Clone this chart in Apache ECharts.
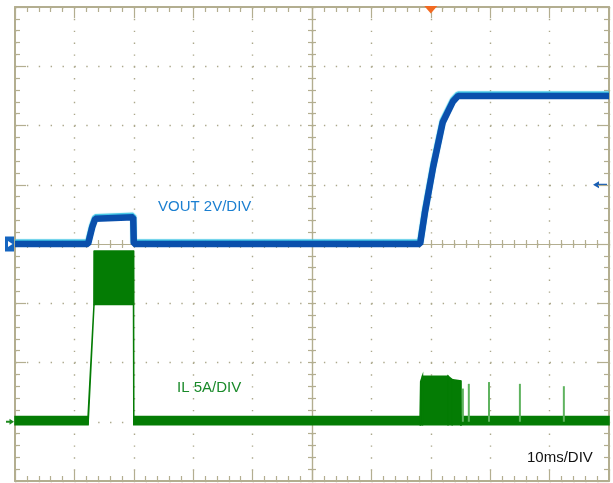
<!DOCTYPE html>
<html><head><meta charset="utf-8">
<script src="https://cdn.jsdelivr.net/npm/echarts@6.0.0/dist/echarts.min.js"></script>
<style>html,body{margin:0;padding:0;background:#fff}#c{width:613px;height:483px}</style>
</head><body><div id="c"></div>
<script>
// ---- data read from the scope capture (time in ms) ----
const timeV = [0, 12.3, 13.0, 13.5, 13.8, 19.9, 20.0, 68.2, 69.0, 70.4, 72.0, 73.7, 74.6, 100];
const vout  = [0, 0,    0.57, 0.85, 0.9,  0.9,  0,    0,    1.05, 2.6,  4.1,  4.8,  5.0,  5.0];

const timeIL = [0,     12.3,  13.3, 13.35, 19.95, 20.0,  68.2,  68.3,  68.6,  72.9,  73.6,  75.05, 75.1,  100];
const ilLow  = [-0.25, -0.25, 9.9,  9.9,   9.9,   -0.25, -0.25, -0.25, -0.25, -0.25, -0.25, -0.25, -0.25, -0.25];
const ilHigh = [0.45,  0.45,  9.9,  14.4,  14.4,  0.45,  0.45,  3.4,   3.85,  3.85,  3.55,  3.45,  0.45,  0.45];

const spikeTime = [75.4, 76.4, 79.8, 85.0, 92.4];
const spikeIL   = [2.8,  3.2,  3.35, 3.2,  3.0];

const voutLabel = 'VOUT 2V/DIV';
const ilLabel = 'IL 5A/DIV';
const timeLabel = '10ms/DIV';
const triggerTime = 70;
const triggerLevel = 2.0;

// ---- chart ----
const gridC = '#b3ae90';
const dotC = '#aca88c';
function border(pos, extra) {
  return Object.assign({
    type: 'value', position: pos,
    axisLine: {show: true, onZero: false, lineStyle: {color: gridC, width: 2}},
    axisTick: {show: true, inside: true, length: 11, lineStyle: {color: gridC, width: 1.2}},
    minorTick: {show: true, splitNumber: 5, length: 5, lineStyle: {color: gridC, width: 1.2}},
    axisLabel: {show: false}, splitLine: {show: false}
  }, extra);
}
function center(pos, inside, extra) {
  return Object.assign({
    type: 'value', position: pos,
    axisLine: {show: true, onZero: false, lineStyle: {color: gridC, width: 1.2}},
    axisTick: {show: true, inside: inside, length: 4, lineStyle: {color: gridC, width: 1.2}},
    axisLabel: {show: false}, splitLine: {show: false}
  }, extra);
}
const pairs = (a, b) => a.map((v, i) => [v, b[i]]);

const chart = echarts.init(document.getElementById('c'));
chart.setOption({
  animation: false,
  grid: {left: 15, top: 7, width: 594, height: 474, outerBoundsMode: 'none'},
  xAxis: [
    border('bottom', {min: 0, max: 100, interval: 10,
      splitLine: {show: true, lineStyle: {color: dotC, width: 1.4, type: [1.4, 10.45]}}}),
    border('top', {min: 0, max: 100, interval: 10}),
    center('bottom', true, {min: 0, max: 100, interval: 2, offset: -237}),
    center('bottom', false, {min: 0, max: 100, interval: 2, offset: -237})
  ],
  yAxis: [
    border('left', {min: -4, max: 4, interval: 1,
      splitLine: {show: true, lineStyle: {color: dotC, width: 1.4, type: [1.4, 10.48]}}}),
    border('right', {min: -4, max: 4, interval: 1}),
    center('left', true, {min: -4, max: 4, interval: 0.2, offset: -297}),
    center('left', false, {min: -4, max: 4, interval: 0.2, offset: -297}),
    {type: 'value', show: false, min: -8, max: 8},
    {type: 'value', show: false, min: -5, max: 35}
  ],
  series: [
    {type: 'custom', name: 'IL', xAxisIndex: 0, yAxisIndex: 5, z: 3, clip: false,
      data: timeIL.map((t, i) => [t, ilLow[i], ilHigh[i]]),
      encode: {x: 0, y: [1, 2]},
      renderItem: function (params, api) {
        const i = params.dataIndex;
        if (i >= timeIL.length - 1) return null;
        const a = api.coord([timeIL[i], ilLow[i]]);
        const b = api.coord([timeIL[i], ilHigh[i]]);
        const c = api.coord([timeIL[i + 1], ilHigh[i + 1]]);
        const d = api.coord([timeIL[i + 1], ilLow[i + 1]]);
        return {type: 'polygon', shape: {points: [a, b, c, d]},
          style: {fill: '#047c04', stroke: '#047c04', lineWidth: 1.5}};
      }},
    {type: 'bar', name: 'IL spikes', xAxisIndex: 0, yAxisIndex: 5, barWidth: 2, z: 3,
      data: pairs(spikeTime, spikeIL), itemStyle: {color: '#5fb35f'}},
    {type: 'line', name: 'VOUT', xAxisIndex: 0, yAxisIndex: 4,
      data: pairs(timeV, vout), showSymbol: false, z: 4,
      lineStyle: {color: '#0a4fac', width: 6.5, shadowColor: '#3cc4e4', shadowBlur: 1, shadowOffsetY: -1.5}}
  ]
});

const gV = chart.convertToPixel({xAxisIndex: 0, yAxisIndex: 4}, [0, 0]);
const gI = chart.convertToPixel({xAxisIndex: 0, yAxisIndex: 5}, [0, 0]);
const trg = chart.convertToPixel({xAxisIndex: 0, yAxisIndex: 4}, [triggerTime, triggerLevel]);
const rightX = chart.convertToPixel({xAxisIndex: 0, yAxisIndex: 4}, [100, 0])[0];
const topY = chart.convertToPixel({xAxisIndex: 0, yAxisIndex: 0}, [0, 4])[1];
const font = '15px "Liberation Sans", Arial, sans-serif';

chart.setOption({
  graphic: [
    {type: 'rect', shape: {x: 5, y: gV[1] - 7.5, width: 9, height: 15}, style: {fill: '#1565c0'}},
    {type: 'polygon', shape: {points: [[8, gV[1] - 3], [12.5, gV[1]], [8, gV[1] + 3]]}, style: {fill: '#fff'}},
    {type: 'line', shape: {x1: 6, y1: gI[1], x2: 11, y2: gI[1]}, style: {stroke: '#1f8a1f', lineWidth: 2}},
    {type: 'polygon', shape: {points: [[9.5, gI[1] - 3], [14, gI[1]], [9.5, gI[1] + 3]]}, style: {fill: '#1f8a1f'}},
    {type: 'polygon', shape: {points: [[trg[0] - 6.5, topY - 1], [trg[0] + 6.5, topY - 1], [trg[0], topY + 6.5]]}, style: {fill: '#f36a21'}, z: 20},
    {type: 'line', shape: {x1: rightX - 11, y1: trg[1], x2: rightX - 2, y2: trg[1]}, style: {stroke: '#1a5fb4', lineWidth: 2}},
    {type: 'polygon', shape: {points: [[rightX - 16, trg[1]], [rightX - 10, trg[1] - 3.5], [rightX - 10, trg[1] + 3.5]]}, style: {fill: '#1a5fb4'}},
    {type: 'text', style: {x: 158, y: 207, text: voutLabel, font: font, fill: '#1b7fd0', verticalAlign: 'middle'}, z: 10},
    {type: 'text', style: {x: 177, y: 388, text: ilLabel, font: font, fill: '#1a8a2a', verticalAlign: 'middle'}, z: 10},
    {type: 'text', style: {x: 527, y: 458, text: timeLabel, font: font, fill: '#111', verticalAlign: 'middle'}, z: 10}
  ]
});
</script>
</body></html>
